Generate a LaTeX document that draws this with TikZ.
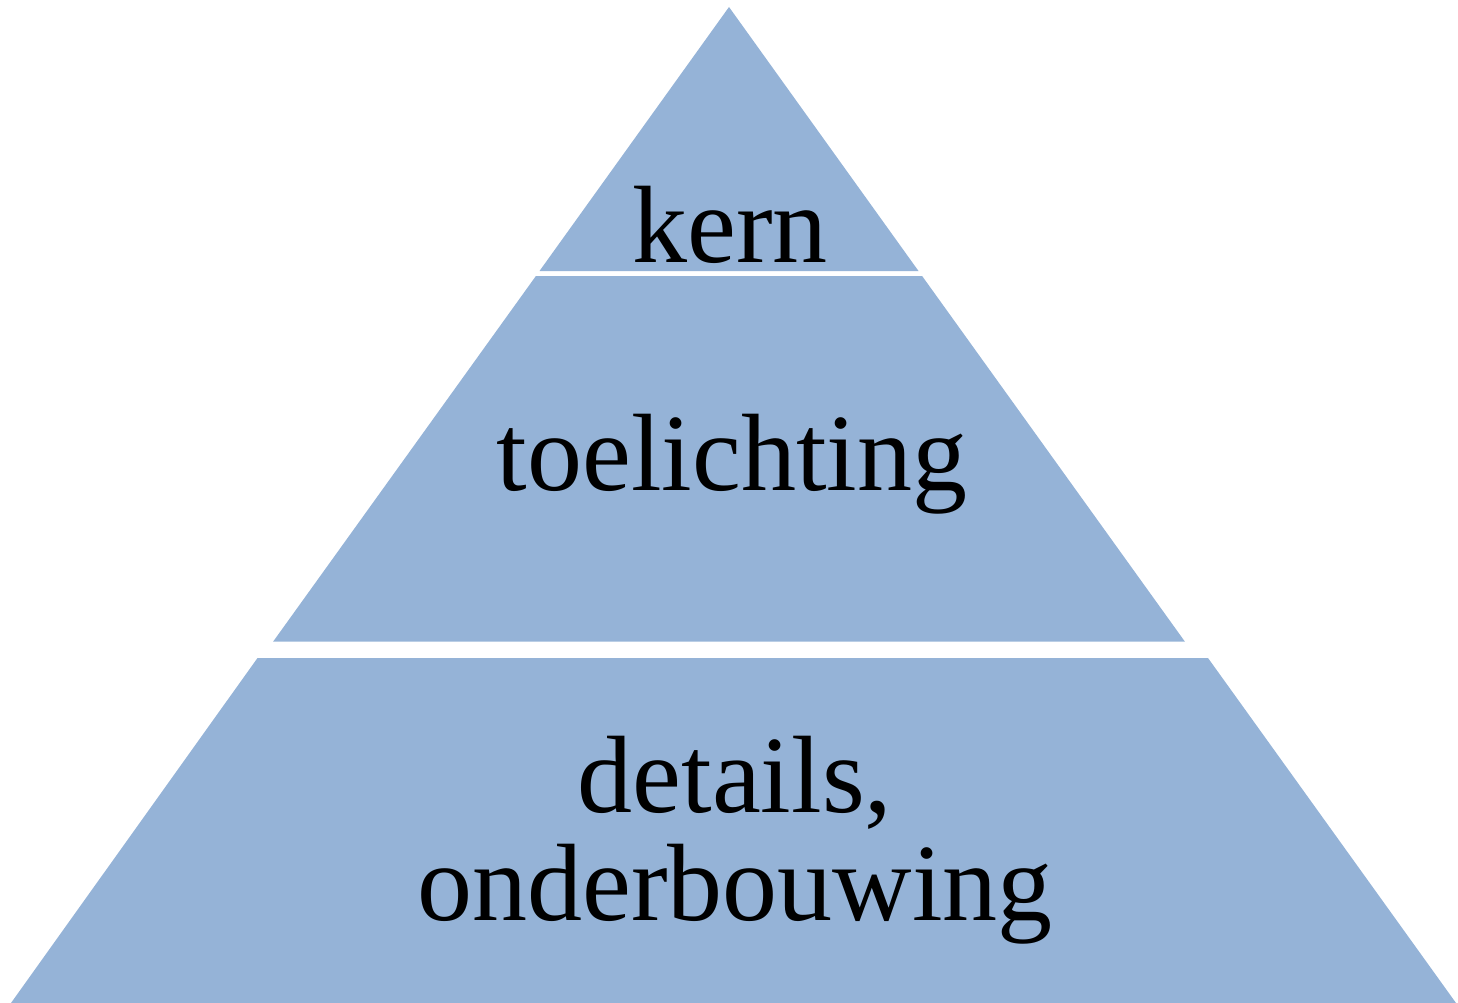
\documentclass[tikz,border=0pt]{standalone}
\usepackage{fontspec}
\setmainfont{Liberation Serif}
\definecolor{layerblue}{HTML}{95B3D7}
\tikzset{
  layertext/.style={anchor=base, text=black, font=\fontsize{110}{110}\selectfont, inner sep=0pt, align=center},
  layerfill/.style={fill=layerblue, draw=none},
}
\begin{document}
\begin{tikzpicture}[x=1pt,y=-1pt]
\useasboundingbox (0,0) rectangle (1458,1003);
% top layer
\path[layerfill] (729,7) -- (918.5,271) -- (539.5,271) -- cycle;
% middle layer
\path[layerfill] (535.9,276) -- (922.1,276) -- (1184.8,641.5) -- (273.2,641.5) -- cycle;
% bottom layer
\path[layerfill] (257.5,658) -- (1208,658) -- (1456,1003) -- (11,1003) -- cycle;
\node[layertext] (kern) at (730,262) {kern};
\node[layertext] (toel) at (732,490) {toelichting};
\node[layertext] (det) at (735,812) {details,};
\node[layertext] (ond) at (735,920) {onderbouwing};
\end{tikzpicture}
\end{document}
